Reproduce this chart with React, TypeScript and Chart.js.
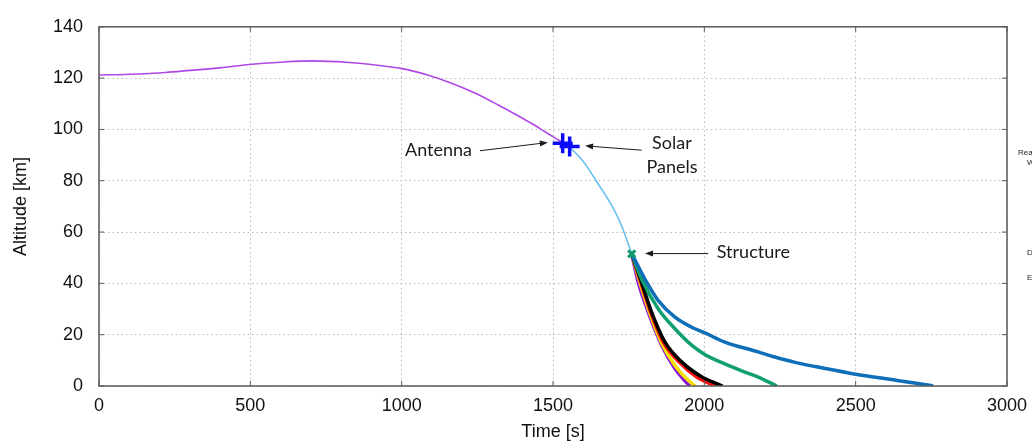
import React, { useEffect, useRef } from 'react';
import { Chart, registerables } from 'chart.js';

Chart.register(...registerables);

// ---------- data ----------
const xTicks = [0, 500, 1000, 1500, 2000, 2500, 3000];
const yTicks = [0, 20, 40, 60, 80, 100, 120, 140];

const mainTime = [0, 100, 220, 300, 400, 496, 600, 705, 826, 900, 1001, 1080, 1156, 1240, 1321, 1380, 1431, 1480, 1530];
const mainAlt = [121.2, 121.5, 122.2, 123.0, 124.0, 125.3, 126.2, 126.7, 126.1, 125.3, 123.7, 121.4, 118.4, 114.3, 109.4, 105.6, 102.2, 98.6, 95.0];

const bodyTime = [1530, 1555, 1600, 1644, 1699, 1730, 1760];
const bodyAlt = [95.0, 93.0, 87.5, 79.7, 69.3, 61.5, 51.5];

const blueTime = [1760, 1780, 1804, 1848, 1903, 1958, 2000, 2068, 2178, 2233, 2300, 2400, 2500, 2600, 2700, 2756];
const blueAlt = [51.5, 47, 41.6, 33.3, 26.8, 22.9, 20.8, 17.1, 13.3, 11.3, 9.2, 6.8, 4.6, 2.8, 1.1, 0];

const greenTime = [1760, 1793, 1848, 1903, 1958, 2000, 2068, 2130, 2178, 2239];
const greenAlt = [51.5, 41.6, 30, 22.3, 15.9, 12.4, 8.6, 5.6, 3.5, 0];

const blackTime = [1760, 1793, 1826, 1870, 1925, 1991, 2060];
const blackAlt = [51.5, 40.3, 28.7, 17.1, 9.4, 3.6, 0];

const redTime = [1760, 1790, 1822, 1865, 1918, 1975, 2037];
const redAlt = [51.5, 40.5, 29, 17, 9.2, 3.5, 0];

const yellowTime = [1760, 1788, 1818, 1858, 1900, 1940, 1970];
const yellowAlt = [51.5, 40, 29, 17, 8.5, 3, 0];

const purpleTime = [1760, 1782, 1815, 1859, 1903, 1930, 1952];
const purpleAlt = [51.5, 40.3, 28.7, 15.9, 6.8, 2.8, 0];

const antennaPt = { x: 1532, y: 94.6 };
const solarPt = { x: 1555, y: 93.3 };
const structurePt = { x: 1760, y: 51.5 };

const annotationTexts = [
  { lines: ['Antenna'], x: 1011, y: 91.9, align: 'left' },
  { lines: ['Solar', 'Panels'], x: 1893, y: 94.6, align: 'center' },
  { lines: ['Structure'], x: 2041, y: 52.0, align: 'left' },
];
const annotationArrows = [
  { from: { x: 1259, y: 91.7 }, to: { x: 1483, y: 94.9 } },
  { from: { x: 1793, y: 91.9 }, to: { x: 1606, y: 93.6 } },
  { from: { x: 2013, y: 51.6 }, to: { x: 1804, y: 51.6 } },
];

const zip = (t: number[], a: number[]) => t.map((v, i) => ({ x: v, y: a[i] }));

const annotationPlugin = {
  id: 'annotations',
  afterDraw(chart: any) {
    const { ctx, chartArea, scales } = chart;
    const xs = scales.x;
    const ys = scales.y;
    ctx.save();
    // frame + inward ticks
    ctx.strokeStyle = '#5a5a5a';
    ctx.lineWidth = 1.5;
    ctx.strokeRect(chartArea.left, chartArea.top, chartArea.right - chartArea.left, chartArea.bottom - chartArea.top);
    ctx.lineWidth = 1;
    const tl = 5;
    xTicks.forEach((t) => {
      const px = xs.getPixelForValue(t);
      ctx.beginPath();
      ctx.moveTo(px, chartArea.bottom);
      ctx.lineTo(px, chartArea.bottom - tl);
      ctx.moveTo(px, chartArea.top);
      ctx.lineTo(px, chartArea.top + tl);
      ctx.stroke();
    });
    yTicks.forEach((v) => {
      const py = ys.getPixelForValue(v);
      ctx.beginPath();
      ctx.moveTo(chartArea.left, py);
      ctx.lineTo(chartArea.left + tl, py);
      ctx.moveTo(chartArea.right, py);
      ctx.lineTo(chartArea.right - tl, py);
      ctx.stroke();
    });

    // annotation text
    ctx.fillStyle = '#1a1a1a';
    ctx.font = '18px Lato, "Open Sans", sans-serif';
    ctx.textBaseline = 'middle';
    annotationTexts.forEach((a) => {
      ctx.textAlign = a.align;
      const px = xs.getPixelForValue(a.x);
      const py = ys.getPixelForValue(a.y);
      a.lines.forEach((ln, i) => ctx.fillText(ln, px, py + i * 24));
    });

    // arrows
    ctx.strokeStyle = '#1a1a1a';
    ctx.lineWidth = 1;
    annotationArrows.forEach((ar) => {
      const x1 = xs.getPixelForValue(ar.from.x);
      const y1 = ys.getPixelForValue(ar.from.y);
      const x2 = xs.getPixelForValue(ar.to.x);
      const y2 = ys.getPixelForValue(ar.to.y);
      const ang = Math.atan2(y2 - y1, x2 - x1);
      ctx.beginPath();
      ctx.moveTo(x1, y1);
      ctx.lineTo(x2 - 6 * Math.cos(ang), y2 - 6 * Math.sin(ang));
      ctx.stroke();
      ctx.beginPath();
      ctx.moveTo(x2, y2);
      ctx.lineTo(x2 - 8 * Math.cos(ang) + 3 * Math.sin(ang), y2 - 8 * Math.sin(ang) - 3 * Math.cos(ang));
      ctx.lineTo(x2 - 8 * Math.cos(ang) - 3 * Math.sin(ang), y2 - 8 * Math.sin(ang) + 3 * Math.cos(ang));
      ctx.closePath();
      ctx.fill();
    });

    // clipped legend fragments on the right edge
    ctx.font = '8px "Liberation Sans", Arial, sans-serif';
    ctx.textAlign = 'left';
    ctx.fillStyle = '#222';
    ctx.fillText('Reaction', chartArea.right + 11, 153);
    ctx.fillText('Wheels', chartArea.right + 20, 163);
    ctx.fillText('Debris', chartArea.right + 20, 253);
    ctx.fillText('End', chartArea.right + 20, 278);
    ctx.restore();
  },
};

export default function App() {
  const ref = useRef<HTMLCanvasElement>(null);
  useEffect(() => {
    document.body.style.margin = '0';
    const line = (data: any, color: string, width: number, order: number) => ({
      data,
      borderColor: color,
      backgroundColor: color,
      borderWidth: width,
      pointRadius: 0,
      cubicInterpolationMode: 'monotone',
      fill: false,
      order,
    });
    const font = { family: '"Liberation Sans", Arial, sans-serif', size: 18 };
    const chart = new Chart(ref.current!, {
      type: 'line',
      data: {
        datasets: [
          line(zip(mainTime, mainAlt), '#b048e8', 1.6, 10),
          line(zip(bodyTime, bodyAlt), '#6cc0f0', 1.6, 9),
          line(zip(blueTime, blueAlt), '#0e6eb8', 3.5, 2),
          line(zip(greenTime, greenAlt), '#10a070', 3.5, 3),
          line(zip(blackTime, blackAlt), '#000000', 3.5, 4),
          line(zip(redTime, redAlt), '#ff1010', 3.5, 5),
          line(zip(yellowTime, yellowAlt), '#f5e000', 3.5, 6),
          line(zip(purpleTime, purpleAlt), '#8a10e0', 3.5, 7),
          {
            type: 'scatter',
            data: [antennaPt, solarPt],
            pointStyle: 'cross',
            pointRadius: 10,
            borderWidth: 3.5,
            borderColor: '#0a0aff',
            backgroundColor: '#0a0aff',
            order: 0,
          } as any,
          {
            type: 'scatter',
            data: [structurePt],
            pointStyle: 'crossRot',
            pointRadius: 5,
            borderWidth: 3,
            borderColor: '#139a6a',
            backgroundColor: '#139a6a',
            order: 0,
          } as any,
        ],
      },
      options: {
        animation: false,
        responsive: false,
        layout: { padding: { top: 24, right: 25, left: 0, bottom: 0 } },
        plugins: { legend: { display: false }, tooltip: { enabled: false } },
        scales: {
          x: {
            type: 'linear',
            min: 0,
            max: 3000,
            afterBuildTicks: (s: any) => { s.ticks = xTicks.map((v) => ({ value: v })); },
            afterFit: (s: any) => { s.height = 59; s.paddingRight = 0; s.paddingLeft = 0; },
            grid: { color: '#b8b8b8', drawTicks: false, lineWidth: 1 },
            border: { display: false, dash: [1.5, 3] },
            ticks: { color: '#111', font, padding: 9, maxRotation: 0, callback: (v: any) => String(v) },
            title: { display: true, text: 'Time [s]', color: '#111', font, padding: { top: 0, bottom: 2 } },
          },
          y: {
            type: 'linear',
            min: 0,
            max: 140,
            afterBuildTicks: (s: any) => { s.ticks = yTicks.map((v) => ({ value: v })); },
            afterFit: (s: any) => { s.width = 99; },
            grid: { color: '#b8b8b8', drawTicks: false, lineWidth: 1 },
            border: { display: false, dash: [1.5, 3] },
            ticks: { color: '#111', font, padding: 16, callback: (v: any) => String(v) },
            title: { display: true, text: 'Altitude [km]', color: '#111', font, padding: { top: 10, bottom: 0 } },
          },
        },
      },
      plugins: [annotationPlugin],
    } as any);
    return () => chart.destroy();
  }, []);
  return <canvas ref={ref} width={1032} height={445} style={{ display: 'block' }} />;
}
